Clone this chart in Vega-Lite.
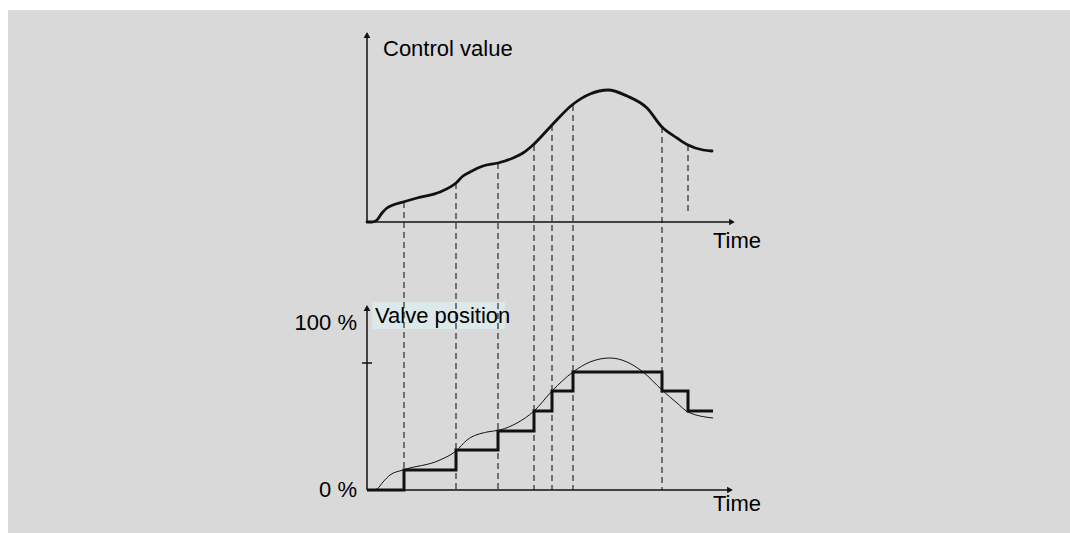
{
  "$schema": "https://vega.github.io/schema/vega-lite/v6.json",
  "width": 1062,
  "height": 523,
  "autosize": {"type": "none"},
  "padding": {"left": 8, "top": 10, "right": 0, "bottom": 0},
  "background": "white",
  "config": {"view": {"fill": "#d9d9d9", "stroke": null}},
  "datasets": {
    "control": [
      {"t": 0, "v": 268}, {"t": 5, "v": 268}, {"t": 10, "v": 270}, {"t": 15, "v": 277},
      {"t": 20, "v": 282}, {"t": 26, "v": 285}, {"t": 36, "v": 288}, {"t": 50, "v": 292},
      {"t": 73, "v": 298}, {"t": 89, "v": 307}, {"t": 96, "v": 314}, {"t": 103, "v": 318},
      {"t": 116, "v": 324}, {"t": 131, "v": 327}, {"t": 146, "v": 332}, {"t": 156, "v": 337},
      {"t": 166, "v": 345}, {"t": 185, "v": 365}, {"t": 205, "v": 385}, {"t": 223, "v": 396},
      {"t": 241, "v": 400}, {"t": 260, "v": 394}, {"t": 280, "v": 382}, {"t": 295, "v": 363},
      {"t": 310, "v": 352}, {"t": 321, "v": 345}, {"t": 336, "v": 340}, {"t": 345, "v": 339}
    ],
    "thin": [
      {"t": 0, "v": 0}, {"t": 8, "v": 0}, {"t": 10, "v": 1}, {"t": 16, "v": 8},
      {"t": 23, "v": 15}, {"t": 36, "v": 20}, {"t": 73, "v": 30}, {"t": 89, "v": 39},
      {"t": 100, "v": 50}, {"t": 120, "v": 58}, {"t": 133, "v": 60}, {"t": 150, "v": 67},
      {"t": 167, "v": 79}, {"t": 185, "v": 99}, {"t": 206, "v": 118}, {"t": 223, "v": 128},
      {"t": 243, "v": 132}, {"t": 260, "v": 128}, {"t": 276, "v": 118}, {"t": 295, "v": 100},
      {"t": 310, "v": 87}, {"t": 321, "v": 78}, {"t": 346, "v": 72}
    ],
    "valve": [
      {"t": 0, "v": 0}, {"t": 37, "v": 20}, {"t": 89, "v": 40}, {"t": 131, "v": 59},
      {"t": 167, "v": 79}, {"t": 185, "v": 99}, {"t": 206, "v": 118}, {"t": 295, "v": 99},
      {"t": 321, "v": 79}, {"t": 346, "v": 79}
    ],
    "guides": [
      {"t": 37, "v": 288, "v2": 0}, {"t": 89, "v": 307, "v2": 0}, {"t": 131, "v": 327, "v2": 0},
      {"t": 167, "v": 345, "v2": 0}, {"t": 185, "v": 365, "v2": 0}, {"t": 206, "v": 385, "v2": 0},
      {"t": 295, "v": 363, "v2": 0}, {"t": 321, "v": 345, "v2": 275}
    ],
    "axes": [
      {"t": 0, "t2": 0, "v": 268, "v2": 455},
      {"t": 0, "t2": 365, "v": 268, "v2": 268},
      {"t": 0, "t2": 0, "v": 0, "v2": 182},
      {"t": 0, "t2": 363, "v": 0, "v2": 0},
      {"t": -5, "t2": 5, "v": 127, "v2": 127}
    ],
    "arrows": [
      {"t": 0, "v": 455, "dir": "up"},
      {"t": 365, "v": 268, "dir": "right"},
      {"t": 0, "v": 182, "dir": "up"},
      {"t": 363, "v": 0, "dir": "right"}
    ],
    "labels": [
      {"t": 16, "v": 434, "text": "Control value", "side": "left"},
      {"t": 346, "v": 242, "text": "Time", "side": "left"},
      {"t": 346, "v": -21, "text": "Time", "side": "left"},
      {"t": 8, "v": 167, "text": "Valve position", "side": "left"},
      {"t": -10, "v": 160, "text": "100 %", "side": "right"},
      {"t": -10, "v": -7, "text": "0 %", "side": "right"}
    ],
    "box": [{"t": 5, "t2": 138, "v": 161, "v2": 188}]
  },
  "encoding": {
    "x": {"field": "t", "type": "quantitative", "scale": {"domain": [-359, 703], "nice": false, "zero": false}, "axis": null},
    "y": {"field": "v", "type": "quantitative", "scale": {"domain": [-43, 480], "nice": false, "zero": false}, "axis": null}
  },
  "layer": [
    {
      "data": {"name": "box"},
      "mark": {"type": "rect", "fill": "#dde8ea"},
      "encoding": {"x2": {"field": "t2"}, "y2": {"field": "v2"}}
    },
    {
      "data": {"name": "guides"},
      "mark": {"type": "rule", "stroke": "#2a2a2a", "strokeWidth": 1.2, "strokeDash": [6, 4]},
      "encoding": {"y2": {"field": "v2"}}
    },
    {
      "data": {"name": "axes"},
      "mark": {"type": "rule", "stroke": "#111111", "strokeWidth": 1.5},
      "encoding": {"x2": {"field": "t2"}, "y2": {"field": "v2"}}
    },
    {
      "data": {"name": "arrows"},
      "transform": [{"filter": "datum.dir === 'up'"}],
      "mark": {"type": "point", "shape": "triangle-up", "size": 45, "filled": true, "color": "#111111", "opacity": 1}
    },
    {
      "data": {"name": "arrows"},
      "transform": [{"filter": "datum.dir === 'right'"}],
      "mark": {"type": "point", "shape": "triangle-right", "size": 45, "filled": true, "color": "#111111", "opacity": 1}
    },
    {
      "data": {"name": "thin"},
      "mark": {"type": "line", "interpolate": "monotone", "stroke": "#111111", "strokeWidth": 1}
    },
    {
      "data": {"name": "valve"},
      "mark": {"type": "line", "interpolate": "step-after", "stroke": "#111111", "strokeWidth": 3}
    },
    {
      "data": {"name": "control"},
      "mark": {"type": "line", "interpolate": "monotone", "stroke": "#111111", "strokeWidth": 2.8, "strokeCap": "round"}
    },
    {
      "data": {"name": "labels"},
      "transform": [{"filter": "datum.side === 'left'"}],
      "mark": {"type": "text", "align": "left", "baseline": "alphabetic", "font": "Liberation Sans", "fontSize": 22, "color": "#000000"},
      "encoding": {"text": {"field": "text"}}
    },
    {
      "data": {"name": "labels"},
      "transform": [{"filter": "datum.side === 'right'"}],
      "mark": {"type": "text", "align": "right", "baseline": "alphabetic", "font": "Liberation Sans", "fontSize": 22, "color": "#000000"},
      "encoding": {"text": {"field": "text"}}
    }
  ]
}
